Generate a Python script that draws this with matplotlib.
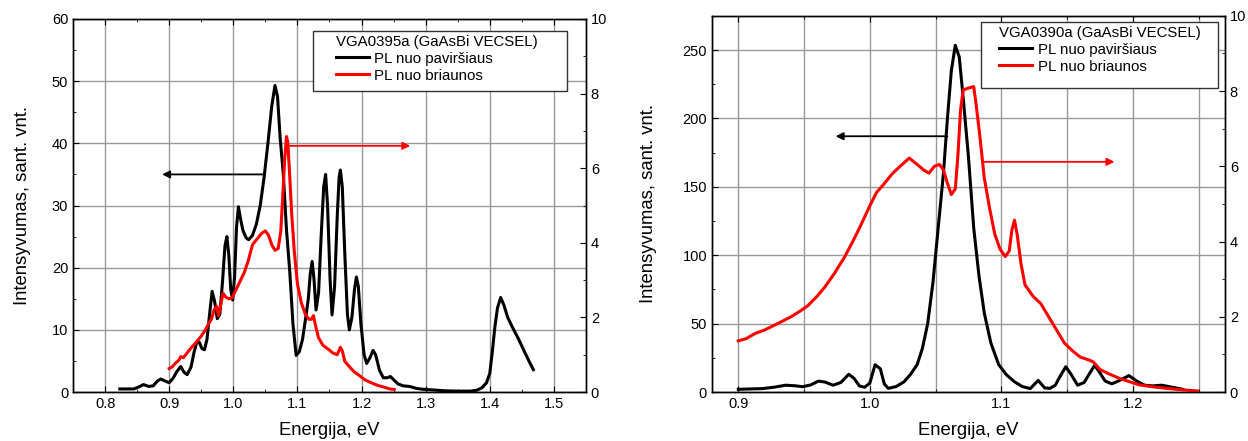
import numpy as np
import matplotlib.pyplot as plt
from matplotlib.patches import Rectangle
from matplotlib.ticker import MultipleLocator

plt.rcParams['font.family'] = ['Liberation Sans', 'DejaVu Sans']
plt.rcParams['font.size'] = 10

# VGA0395a: PL from surface (left axis) and from edge (right axis)
e_surf_a = [0.823, 0.835, 0.845, 0.852, 0.860, 0.868, 0.875, 0.882, 0.887, 0.893,
            0.900, 0.906, 0.912, 0.918, 0.923, 0.928, 0.934, 0.939, 0.943, 0.947,
            0.951, 0.955, 0.959, 0.963, 0.967, 0.971, 0.975, 0.979, 0.983, 0.987,
            0.990, 0.993, 0.996, 0.999, 1.002, 1.005, 1.008, 1.011, 1.015, 1.020,
            1.024, 1.030, 1.036, 1.042, 1.048, 1.054, 1.060, 1.065, 1.069, 1.073,
            1.078, 1.083, 1.088, 1.093, 1.098, 1.103, 1.108, 1.113, 1.117, 1.120,
            1.123, 1.126, 1.129, 1.133, 1.137, 1.141, 1.144, 1.147, 1.151, 1.154,
            1.158, 1.162, 1.165, 1.167, 1.170, 1.174, 1.178, 1.181, 1.185, 1.189,
            1.192, 1.195, 1.199, 1.204, 1.208, 1.213, 1.218, 1.222, 1.228, 1.234,
            1.240, 1.245, 1.250, 1.257, 1.265, 1.275, 1.285, 1.295, 1.310, 1.330,
            1.350, 1.370, 1.380, 1.388, 1.395, 1.400, 1.404, 1.408, 1.412, 1.417,
            1.422, 1.428, 1.435, 1.445, 1.455, 1.462, 1.468]
pl_surf_a = [0.5, 0.5, 0.5, 0.8, 1.2, 0.9, 1.0, 1.8, 2.1, 1.8,
             1.5, 2.2, 3.3, 4.1, 3.2, 2.8, 4.0, 6.5, 8.0, 8.0,
             7.0, 6.8, 8.5, 12.5, 16.2, 14.5, 11.8, 12.5, 17.5, 23.5,
             25.0, 22.0, 16.5, 14.8, 18.5, 26.5, 29.8, 28.0, 26.0, 24.8,
             24.5, 25.2, 27.0, 30.0, 34.5, 40.0, 46.0, 49.3, 47.5, 41.0,
             35.0, 26.0, 19.5, 11.0, 5.9, 6.5, 8.5, 12.0, 15.0, 19.0,
             21.0, 18.0, 13.2, 16.0, 25.0, 33.0, 35.0, 30.0, 18.0, 12.4,
             17.0, 28.0, 34.5, 35.7, 33.0, 22.0, 12.5, 10.0, 12.0, 16.5,
             18.5, 17.0, 11.0, 6.0, 4.6, 5.5, 6.7, 6.0, 3.5, 2.3,
             2.3, 2.5, 2.0, 1.3, 1.0, 0.9, 0.6, 0.45, 0.35, 0.2,
             0.15, 0.15, 0.3, 0.7, 1.5, 3.0, 6.5, 10.5, 13.5, 15.2,
             14.0, 12.0, 10.5, 8.5, 6.3, 4.8, 3.6]

e_edge_a = [0.900, 0.905, 0.910, 0.915, 0.918, 0.922, 0.928, 0.935, 0.942, 0.950,
            0.957, 0.962, 0.966, 0.970, 0.974, 0.977, 0.980, 0.984, 0.988, 0.993,
            0.998, 1.003, 1.010, 1.017, 1.023, 1.030, 1.037, 1.044, 1.050, 1.055,
            1.060, 1.065, 1.070, 1.074, 1.077, 1.080, 1.083, 1.085, 1.088, 1.091,
            1.095, 1.100, 1.106, 1.112, 1.118, 1.122, 1.125, 1.128, 1.133, 1.140,
            1.148, 1.155, 1.162, 1.167, 1.170, 1.174, 1.180, 1.188, 1.196, 1.205,
            1.215, 1.225, 1.235, 1.245, 1.251]
pl_edge_a = [0.63, 0.68, 0.78, 0.85, 0.95, 0.92, 1.05, 1.2, 1.33, 1.5,
             1.68, 1.85, 1.95, 2.2, 2.3, 2.05, 2.3, 2.65, 2.55, 2.5,
             2.52, 2.7, 2.95, 3.2, 3.5, 3.95, 4.1, 4.25, 4.32, 4.2,
             3.95, 3.8, 3.85, 4.3, 5.2, 6.2, 6.85, 6.7, 5.8, 4.8,
             3.8, 2.9, 2.4, 2.1, 1.95, 1.95, 2.05, 1.8, 1.45, 1.25,
             1.15, 1.05, 1.0, 1.2, 1.1, 0.82, 0.7, 0.55, 0.45, 0.33,
             0.25, 0.18, 0.13, 0.08, 0.07]

# VGA0390a
e_surf_b = [0.900, 0.910, 0.918, 0.927, 0.936, 0.943, 0.949, 0.955, 0.961, 0.966,
            0.972, 0.978, 0.984, 0.988, 0.992, 0.996, 1.000, 1.004, 1.008, 1.011,
            1.014, 1.020, 1.026, 1.031, 1.036, 1.040, 1.044, 1.048, 1.052, 1.056,
            1.059, 1.062, 1.065, 1.068, 1.071, 1.075, 1.079, 1.083, 1.087, 1.092,
            1.098, 1.104, 1.110, 1.116, 1.122, 1.128, 1.133, 1.137, 1.141, 1.145,
            1.149, 1.153, 1.158, 1.163, 1.167, 1.171, 1.175, 1.179, 1.184, 1.190,
            1.197, 1.203, 1.209, 1.215, 1.222, 1.230, 1.238]
pl_surf_b = [2.0, 2.3, 2.5, 3.5, 5.0, 4.6, 3.9, 5.2, 8.0, 7.3,
             5.0, 7.0, 13.0, 10.0, 4.5, 3.5, 6.5, 20.0, 17.0, 6.0,
             2.7, 4.0, 7.5, 13.0, 20.0, 32.0, 50.0, 80.0, 120.0, 160.0,
             200.0, 235.0, 253.5, 245.0, 215.0, 172.0, 120.0, 85.0, 58.0, 36.0,
             20.0, 12.5, 7.5, 4.0, 2.5, 8.5, 3.0, 2.7, 5.0, 12.0,
             18.5, 13.0, 5.0, 7.0, 13.5, 19.5, 14.0, 8.0, 6.0, 8.5,
             12.0, 8.0, 5.0, 4.5, 5.0, 3.5, 2.0]

e_edge_b = [0.900, 0.906, 0.913, 0.920, 0.930, 0.940, 0.947, 0.953, 0.960, 0.966,
            0.973, 0.981, 0.987, 0.992, 0.996, 1.000, 1.005, 1.010, 1.017, 1.023,
            1.030, 1.036, 1.041, 1.045, 1.049, 1.053, 1.056, 1.059, 1.062, 1.065,
            1.067, 1.069, 1.071, 1.075, 1.079, 1.081, 1.084, 1.087, 1.091, 1.095,
            1.099, 1.103, 1.106, 1.108, 1.110, 1.112, 1.115, 1.118, 1.124, 1.130,
            1.136, 1.142, 1.148, 1.154, 1.160, 1.166, 1.170, 1.175, 1.182, 1.190,
            1.198, 1.205, 1.215, 1.225, 1.237, 1.249]
pl_edge_b = [1.36, 1.42, 1.56, 1.65, 1.82, 2.0, 2.15, 2.3, 2.55, 2.8,
             3.15, 3.6, 4.0, 4.35, 4.65, 4.95, 5.3, 5.5, 5.8, 6.0,
             6.22, 6.05, 5.9, 5.82, 6.0, 6.05, 5.9, 5.55, 5.25, 5.4,
             6.3, 7.5, 8.03, 8.08, 8.12, 7.6, 6.7, 5.7, 4.9, 4.2,
             3.8, 3.6, 3.75, 4.3, 4.57, 4.2, 3.4, 2.85, 2.55, 2.35,
             2.0, 1.65, 1.3, 1.1, 0.93, 0.86, 0.8, 0.6, 0.48, 0.36,
             0.27, 0.19, 0.14, 0.1, 0.06, 0.03]

grid_col = '#999999'


def style_axes(ax, ax2):
    for a in (ax, ax2):
        a.tick_params(which='both', direction='in', labelsize=10.5)
        for s in a.spines.values():
            s.set_linewidth(1.0)
    ax.tick_params(which='both', top=True)
    ax.tick_params(which='major', length=4)
    ax.tick_params(which='minor', length=2.5)
    ax2.tick_params(which='major', length=4)
    ax2.tick_params(which='minor', length=2.5)
    ax.set_axisbelow(True)


def add_arrow(ax, x0, x1, y, color):
    ax.annotate('', xy=(x1, y), xytext=(x0, y),
                arrowprops=dict(arrowstyle='-|>', color=color, lw=1.3,
                                mutation_scale=11, shrinkA=0, shrinkB=0))


def add_legend(ax, ax_top, title, box, text_x):
    # box = (x0, y0, x1, y1) in axes fraction; frame drawn separately
    x0, y0, x1, y1 = box
    ax_top.add_patch(Rectangle((x0, y0), x1 - x0, y1 - y0, transform=ax_top.transAxes,
                               facecolor='white', edgecolor='#333333', lw=1.0, zorder=4))
    handles, labels = ax.get_legend_handles_labels()
    leg = ax_top.legend(handles, labels, title=title, loc='upper left',
                        bbox_to_anchor=(text_x, y1), frameon=False,
                        fontsize=10.8, title_fontsize=10.8,
                        handlelength=2.2, handletextpad=0.35, labelspacing=0.2,
                        borderpad=0.25, alignment='left', borderaxespad=0)
    leg.set_zorder(5)
    ax_top.set_zorder(ax.get_zorder() + 1)
    ax_top.patch.set_visible(False)


fig = plt.figure(figsize=(12.48, 4.41), dpi=100)

# Left chart
ax1 = fig.add_axes([0.0585, 0.111, 0.411, 0.846])
ax1b = ax1.twinx()
ax1.plot(e_surf_a, pl_surf_a, color='black', lw=2.2, label='PL nuo paviršiaus')
ax1b.plot(e_edge_a, pl_edge_a, color='red', lw=2.2)
ax1.plot([], [], color='red', lw=2.2, label='PL nuo briaunos')
ax1.set_xlim(0.75, 1.55)
ax1.set_ylim(0, 60)
ax1b.set_ylim(0, 10)
ax1.xaxis.set_major_locator(MultipleLocator(0.1))
ax1.xaxis.set_minor_locator(MultipleLocator(0.05))
ax1.yaxis.set_major_locator(MultipleLocator(10))
ax1.yaxis.set_minor_locator(MultipleLocator(5))
ax1b.yaxis.set_major_locator(MultipleLocator(2))
ax1b.yaxis.set_minor_locator(MultipleLocator(1))
ax1.xaxis.set_major_formatter(lambda v, p: f'{v:.1f}')
ax1.grid(True, which='major', color=grid_col, lw=1.0)
style_axes(ax1, ax1b)
ax1.set_xlabel('Energija, eV', fontsize=13.3, labelpad=8)
ax1.set_ylabel('Intensyvumas, sant. vnt.', fontsize=13.3, labelpad=15)
add_arrow(ax1, 1.049, 0.889, 35, 'black')
add_arrow(ax1b, 1.088, 1.276, 6.6, 'red')
add_legend(ax1, ax1b, 'VGA0395a (GaAsBi VECSEL)', (0.468, 0.807, 0.963, 0.968), 0.505)

# Right chart
ax2 = fig.add_axes([0.5705, 0.111, 0.411, 0.853])
ax2b = ax2.twinx()
ax2.plot(e_surf_b, pl_surf_b, color='black', lw=2.2, label='PL nuo paviršiaus')
ax2b.plot(e_edge_b, pl_edge_b, color='red', lw=2.2)
ax2.plot([], [], color='red', lw=2.2, label='PL nuo briaunos')
ax2.set_xlim(0.88, 1.27)
ax2.set_ylim(0, 275)
ax2b.set_ylim(0, 10)
ax2.xaxis.set_major_locator(MultipleLocator(0.1))
ax2.xaxis.set_minor_locator(MultipleLocator(0.05))
ax2.yaxis.set_major_locator(MultipleLocator(50))
ax2.yaxis.set_minor_locator(MultipleLocator(25))
ax2b.yaxis.set_major_locator(MultipleLocator(2))
ax2b.yaxis.set_minor_locator(MultipleLocator(1))
ax2.xaxis.set_major_formatter(lambda v, p: f'{v:.1f}')
ax2.grid(True, which='both', axis='x', color=grid_col, lw=1.0)
ax2.grid(True, which='major', axis='y', color=grid_col, lw=1.0)
style_axes(ax2, ax2b)
ax2.set_xlabel('Energija, eV', fontsize=13.3, labelpad=8)
ax2.set_ylabel('Intensyvumas, sant. vnt.', fontsize=13.3, labelpad=18)
add_arrow(ax2, 1.059, 0.974, 187, 'black')
add_arrow(ax2b, 1.086, 1.186, 6.12, 'red')
add_legend(ax2, ax2b, 'VGA0390a (GaAsBi VECSEL)', (0.524, 0.809, 0.986, 0.984), 0.553)

fig.savefig('out.png', dpi=100)
